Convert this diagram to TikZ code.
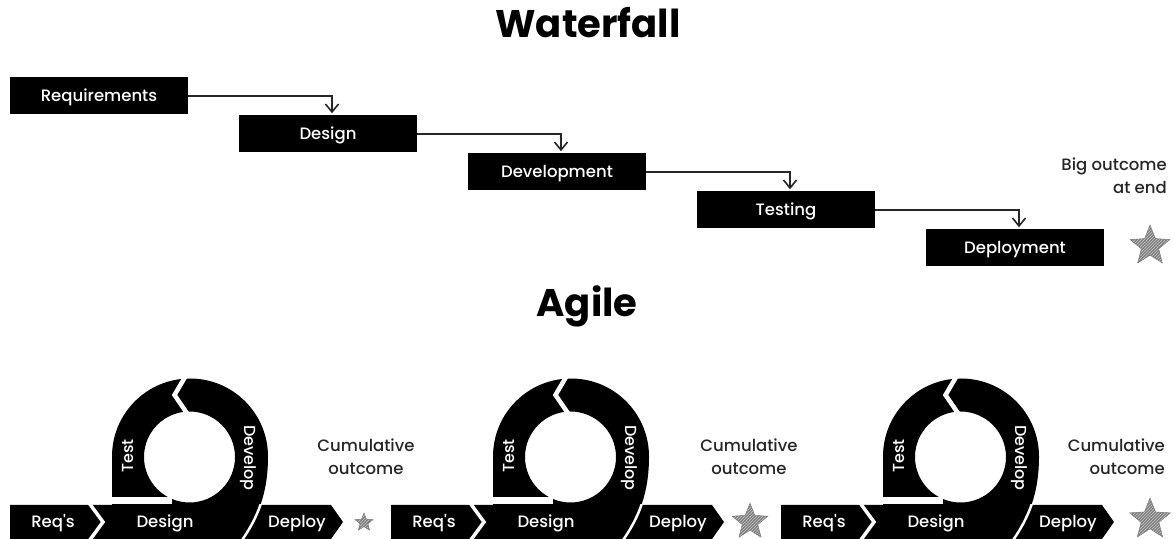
\documentclass[tikz,border=0pt]{standalone}
\usepackage{fontspec}
\setmainfont{Poppins}
\newfontfamily\pmed{Poppins Medium}
\usetikzlibrary{arrows.meta,shapes.geometric,patterns}
\begin{document}
\begin{tikzpicture}[x=1pt,y=1pt,
  wbox/.style={fill=black, text=white, minimum width=178pt, minimum height=37pt, inner sep=0pt,
    font=\pmed\fontsize{16.5}{18}\selectfont, text height=11.5pt, text depth=0pt},
  wflow/.style={draw=black!85, line width=1.6pt, shorten >=2pt,
    -{Straight Barb[length=8pt,width=13pt,line width=1.6pt]}},
  lbl/.style={font=\pmed\fontsize{16.5}{23}\selectfont, text=black!85, inner sep=0pt},
  bartxt/.style={text=white, font=\pmed\fontsize{16.5}{18}\selectfont, inner sep=0pt, anchor=base},
  ringtxt/.style={text=white, font=\pmed\fontsize{16}{18}\selectfont, inner sep=0pt},
  ttl/.style={font=\bfseries\fontsize{38.5}{42}\selectfont, anchor=base, inner sep=0pt},
  outstar/.style={star, star points=5, star point ratio=2.3, inner sep=0pt, draw=black!55,
    line width=0.4pt, preaction={fill=black!50}, pattern=north east lines, pattern color=black!22},
  gapline/.style={draw=white, line cap=butt, line join=miter},
]
\useasboundingbox (0,0) rectangle (1175,538);
\clip (0,0) rectangle (1175,538);

% ---------------- Waterfall ----------------
\node[ttl] (wtitle) at (588,500) {Waterfall};
\node[wbox] (req) at (99,442) {Requirements};
\node[wbox] (des) at (328,404) {Design};
\node[wbox] (dev) at (557,366) {Development};
\node[wbox] (tst) at (786,328) {Testing};
\node[wbox] (dep) at (1015,290) {Deployment};
\draw[wflow] (req.east) -| ([xshift=4pt]des.north);
\draw[wflow] (des.east) -| ([xshift=4pt]dev.north);
\draw[wflow] (dev.east) -| ([xshift=4pt]tst.north);
\draw[wflow] (tst.east) -| ([xshift=4pt]dep.north);
\node[lbl, align=right, anchor=east] (big) at (1167,362) {Big outcome\\at end};
\node[outstar, minimum size=42pt] (bigstar) at (1150,292) {};

% ---------------- Agile ----------------
\node[ttl] (atitle) at (587,221) {Agile};

\foreach \i/\off in {1/0, 2/381, 3/771}{
\begin{scope}[xshift=\off pt]
  % bar
  \fill[black] (10,33) -- (331,33) -- (343,16) -- (331,-1) -- (10,-1) -- cycle;
  % ring
  \fill[black, even odd rule] (112,41) -- (112,81.5)
     arc[start angle=180, end angle=0, radius=78pt]
     .. controls (268,45) and (258,20) .. (240,-5) -- (112,-5) -- cycle
     (189.5,81) circle[radius=45.5pt];
  % white separations
  \fill[white] (105,33.6) rectangle (172,41);
  \draw[gapline, line width=4.5pt] (189.2,168) -- (174.5,143) -- (191.6,118);
  \draw[gapline, line width=3.5pt] (87.6,37) -- (103,16) -- (87.6,-5);
  \begin{scope}
    \clip (200,-5) rectangle (300,33.5);
    \draw[gapline, line width=2.5pt] (268,81.5) .. controls (268,45) and (258,20) .. (240,-5);
  \end{scope}
  % labels
  \node[bartxt] (rq\i) at (53,10.5) {Req's};
  \node[bartxt] (ds\i) at (165,10.5) {Design};
  \node[bartxt] (dp\i) at (297,10.5) {Deploy};
  \node[ringtxt, rotate=90] (ts\i) at (128,82) {Test};
  \node[ringtxt, rotate=-90] (dv\i) at (248,80) {Develop};
\end{scope}
}

\node[lbl, align=center] (c1) at (366,81) {Cumulative\\outcome};
\node[lbl, align=center] (c2) at (749,81) {Cumulative\\outcome};
\node[lbl, align=right, anchor=east] (c3) at (1165,81) {Cumulative\\outcome};

\node[outstar, minimum size=19pt] (s1) at (364,15.5) {};
\node[outstar, minimum size=37.6pt] (s2) at (750,16) {};
\node[outstar, minimum size=43pt] (s3) at (1150,18.5) {};
\end{tikzpicture}
\end{document}
